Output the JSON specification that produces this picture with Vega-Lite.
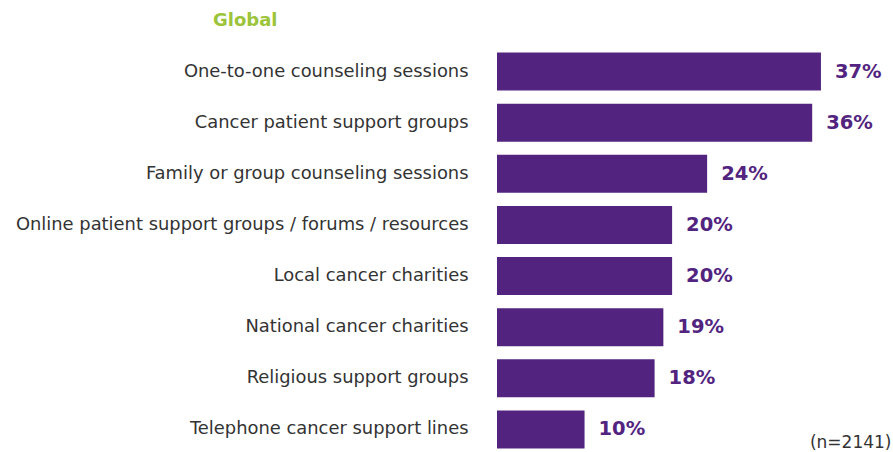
{
  "$schema": "https://vega.github.io/schema/vega-lite/v6.json",
  "width": 394,
  "height": 409,
  "autosize": {"type": "none"},
  "padding": {"left": 497, "top": 46, "right": 2, "bottom": 0},
  "config": {"view": {"stroke": null}, "font": "DejaVu Sans"},
  "title": {"text": "Global", "anchor": "start", "frame": "group", "dx": -284, "offset": 16, "color": "#9cc43a", "fontSize": 18, "fontWeight": "bold"},
  "data": {"values": [
    {"item": "One-to-one counseling sessions", "value": 0.37},
    {"item": "Cancer patient support groups", "value": 0.36},
    {"item": "Family or group counseling sessions", "value": 0.24},
    {"item": "Online patient support groups / forums / resources", "value": 0.20},
    {"item": "Local cancer charities", "value": 0.20},
    {"item": "National cancer charities", "value": 0.19},
    {"item": "Religious support groups", "value": 0.18},
    {"item": "Telephone cancer support lines", "value": 0.10}
  ]},
  "encoding": {
    "y": {"field": "item", "type": "nominal", "sort": null,
      "scale": {"paddingInner": 0.257, "paddingOuter": 0.1285},
      "axis": {"title": null, "ticks": false, "domain": false, "labelPadding": 29, "labelFontSize": 17.9, "labelColor": "#333333", "labelLimit": 0}}
  },
  "layer": [
    {"mark": {"type": "bar", "color": "#53247f"},
     "encoding": {"x": {"field": "value", "type": "quantitative", "scale": {"domain": [0, 0.45]},
       "axis": {"title": "(n=2141)", "labels": false, "ticks": false, "domain": false, "grid": false,
         "titleAnchor": "end", "titleAlign": "right", "titleX": 394, "titleY": -13, "titleBaseline": "middle",
         "titleFontWeight": "normal", "titleFontSize": 17, "titleColor": "#333333"}}}},
    {"mark": {"type": "text", "align": "left", "baseline": "middle", "dx": 14, "fontWeight": "bold", "fontSize": 19.5, "color": "#53247f"},
     "encoding": {"x": {"field": "value", "type": "quantitative"}, "text": {"field": "value", "format": ".0%"}}}
  ]
}
